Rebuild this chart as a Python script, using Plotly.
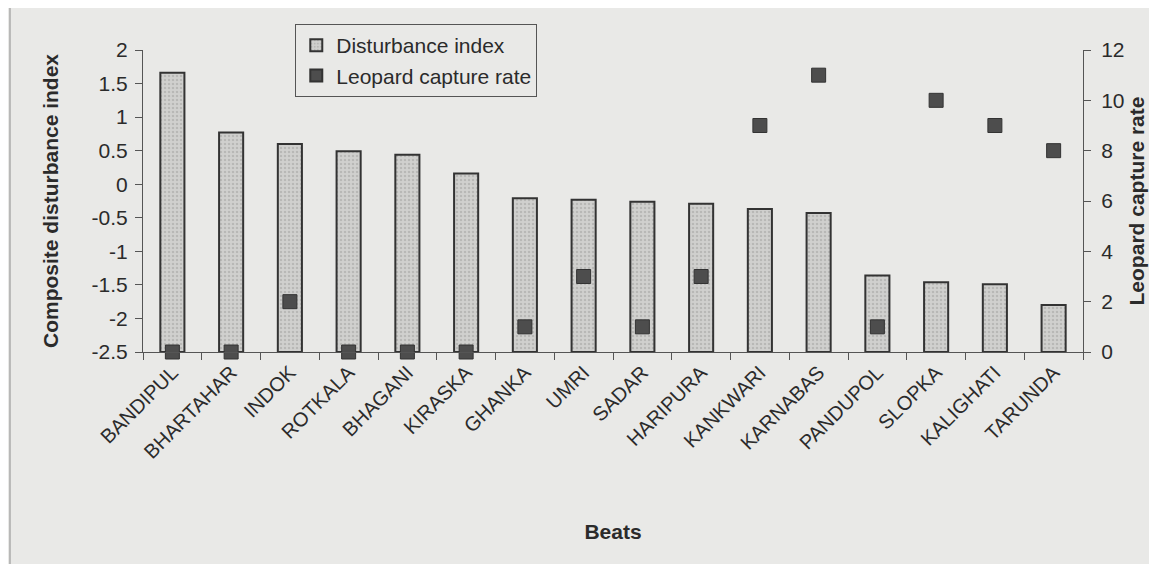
import plotly.graph_objects as go

# Beats and their values
beats = ['BANDIPUL', 'BHARTAHAR', 'INDOK', 'ROTKALA', 'BHAGANI', 'KIRASKA', 'GHANKA', 'UMRI',
         'SADAR', 'HARIPURA', 'KANKWARI', 'KARNABAS', 'PANDUPOL', 'SLOPKA', 'KALIGHATI', 'TARUNDA']
disturbance = [1.66, 0.77, 0.60, 0.49, 0.44, 0.16, -0.21, -0.23,
               -0.26, -0.29, -0.37, -0.43, -1.36, -1.46, -1.49, -1.80]
capture_rate = [0, 0, 2, 0, 0, 0, 1, 3, 1, 3, 9, 11, 1, 10, 9, 8]

left_ticks = [-2.5, -2, -1.5, -1, -0.5, 0, 0.5, 1, 1.5, 2]
left_labels = ['-2.5', '-2', '-1.5', '-1', '-0.5', '0', '0.5', '1', '1.5', '2']
right_ticks = [0, 2, 4, 6, 8, 10, 12]

y_min = -2.5  # horizontal axis crosses here, bars start from it

bg = '#e9e9e7'
ink = '#2b2b2b'
font_family = 'Liberation Sans, Arial, sans-serif'

fig = go.Figure()

fig.add_trace(go.Bar(
    x=beats, y=[v - y_min for v in disturbance], base=y_min,
    name='Disturbance index', width=0.41,
    marker=dict(color='#d0d0ce', line=dict(color='#333333', width=2),
                pattern=dict(shape='.', fgcolor='#a0a09e', size=4, solidity=0.3)),
))

fig.add_trace(go.Scatter(
    x=beats, y=capture_rate, yaxis='y2', mode='markers',
    name='Leopard capture rate', cliponaxis=False,
    marker=dict(symbol='square', size=14, color='#4d4d4d', line=dict(color='#333333', width=1)),
))

# page body has an 8px margin, so the figure is a bit smaller than the window
fig.update_layout(
    width=1141, height=556,
    margin=dict(l=135, r=66, t=42, b=212),
    paper_bgcolor=bg, plot_bgcolor=bg,
    font=dict(family=font_family, size=21, color=ink),
    showlegend=True,
    legend=dict(
        x=0.162, y=1.086, xanchor='left', yanchor='top',
        bgcolor=bg, bordercolor='#555555', borderwidth=1,
        font=dict(size=21, color=ink), itemsizing='constant', tracegroupgap=4,
    ),
    xaxis=dict(
        range=[-0.5, len(beats) - 0.5],
        tickangle=-45, tickson='boundaries', ticks='outside', ticklen=7,
        tickcolor='#555555', showline=True, linecolor='#555555', linewidth=1,
        showgrid=False, tickfont=dict(size=20),
        title=dict(text='<b>Beats</b>', font=dict(size=21), standoff=62),
    ),
    yaxis=dict(
        range=[-2.5, 2], tickvals=left_ticks, ticktext=left_labels,
        ticks='outside', ticklen=7, tickcolor='#555555', ticklabelstandoff=3,
        showline=True, linecolor='#555555', linewidth=1,
        showgrid=False, zeroline=False,
        title=dict(text='<b>Composite disturbance index</b>', font=dict(size=21), standoff=27),
    ),
    yaxis2=dict(
        range=[0, 12], tickvals=right_ticks, overlaying='y', side='right',
        ticks='outside', ticklen=7, tickcolor='#555555', ticklabelstandoff=6,
        showline=True, linecolor='#555555', linewidth=1,
        showgrid=False, zeroline=False, automargin=False,
        title=dict(text='<b>Leopard capture rate</b>', font=dict(size=21), standoff=3),
    ),
    bargap=0.5,
)

# thin frame line on the left edge of the scanned page
fig.add_shape(type='line', xref='paper', yref='paper',
              x0=-0.1415, x1=-0.1415, y0=-0.75, y1=1.2,
              line=dict(color='#8a8a8a', width=1))

fig.write_html('out.html')
